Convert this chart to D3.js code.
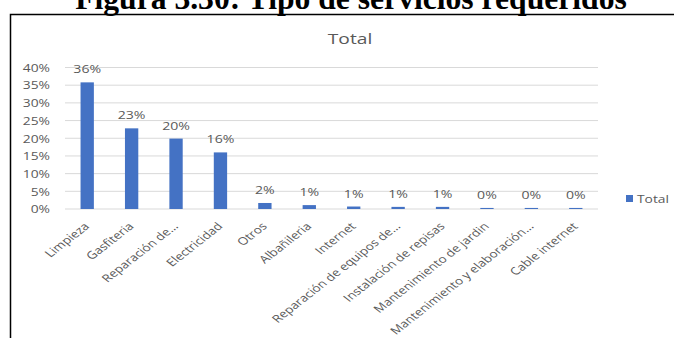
<!DOCTYPE html>
<html>
<head>
<meta charset="utf-8">
<script src="https://cdn.jsdelivr.net/npm/d3@7"></script>
<style>
  html, body { margin: 0; padding: 0; background: #fff; }
  svg { display: block; }
</style>
</head>
<body>
<svg id="chart" width="674" height="338"></svg>
<script>
const categories = ["Limpieza", "Gasfiteria", "Reparación de…", "Electricidad", "Otros", "Albañileria", "Internet", "Reparación de equipos de…", "Instalación de repisas", "Mantenimiento de jardin", "Mantenimiento y elaboración…", "Cable internet"];
const values = [35.8, 22.8, 19.9, 16.0, 1.7, 1.1, 0.7, 0.6, 0.6, 0.3, 0.3, 0.3];
const yTicks = [0, 5, 10, 15, 20, 25, 30, 35, 40];
const seriesName = "Total";
const figureCaption = "Figura 3.30: Tipo de servicios requeridos";

const svg = d3.select("#chart");
const font = "'Open Sans', 'Noto Sans', sans-serif";
const gray = "#595959";
const blue = "#4472C4";
const SX = 1.28; // the screenshot is stretched horizontally

// Document caption (partly cut off at top)
const cap = svg.append("text")
  .attr("x", 351).attr("y", 9)
  .attr("text-anchor", "middle")
  .attr("font-family", "'Liberation Serif', 'Times New Roman', serif")
  .attr("font-weight", "bold")
  .attr("font-size", 24)
  .attr("fill", "#000")
  .text(figureCaption);
const w = cap.node().getComputedTextLength();
cap.attr("font-size", 24 * 552 / w);

// Frame border
svg.append("path")
  .attr("d", "M10.5,338 L10.5,14.5 L674,14.5")
  .attr("fill", "none").attr("stroke", "#000").attr("stroke-width", 1.5);

// Chart title
svg.append("text")
  .attr("transform", `translate(350,44) scale(${SX},1)`)
  .attr("text-anchor", "middle")
  .attr("font-family", font).attr("font-size", 15)
  .attr("fill", gray)
  .text(seriesName);

const x = d3.scaleBand().domain(categories).range([65, 598]).paddingInner(0.7).paddingOuter(0.35);
const y = d3.scaleLinear().domain([0, 40]).range([209, 67.5]);

// Gridlines
svg.append("g").selectAll("line").data(yTicks).join("line")
  .attr("x1", 65).attr("x2", 598)
  .attr("y1", d => y(d)).attr("y2", d => y(d))
  .attr("stroke", "#d9d9d9").attr("stroke-width", 1);

// Y axis
const yAxis = svg.append("g").attr("transform", "translate(50,0)")
  .call(d3.axisLeft(y).tickValues(yTicks).tickSize(0).tickPadding(0).tickFormat(d => d + "%"));
yAxis.select(".domain").remove();
yAxis.selectAll("text")
  .attr("x", 0).attr("dy", "0.35em")
  .attr("transform", `scale(${SX},1)`)
  .attr("font-family", font).attr("font-size", 10.8).attr("fill", gray);

// Bars
svg.append("g").selectAll("rect").data(values).join("rect")
  .attr("x", (d, i) => x(categories[i]))
  .attr("width", x.bandwidth())
  .attr("y", d => y(d))
  .attr("height", d => y(0) - y(d))
  .attr("fill", blue);

// Data labels
const fmt = d3.format(".0%");
svg.append("g").selectAll("text").data(values).join("text")
  .attr("transform", (d, i) => `translate(${x(categories[i]) + x.bandwidth() / 2},${y(d) - 9}) scale(${SX},1)`)
  .attr("text-anchor", "middle")
  .attr("font-family", font).attr("font-size", 11)
  .attr("fill", gray)
  .text(d => fmt(d / 100));

// X axis labels
const xAxis = svg.append("g").attr("transform", "translate(0,209)")
  .call(d3.axisBottom(x).tickSize(0).tickPadding(0));
xAxis.select(".domain").remove();
xAxis.selectAll(".tick text")
  .attr("font-family", font).attr("font-size", 10.6).attr("fill", gray)
  .attr("text-anchor", "end")
  .attr("x", 0).attr("y", 0).attr("dy", 0)
  .attr("transform", `translate(3,18) scale(${SX},1) rotate(-45)`);

// Legend
svg.append("rect").attr("x", 626).attr("y", 195).attr("width", 7).attr("height", 7).attr("fill", blue);
svg.append("text").attr("transform", `translate(637,203) scale(${SX},1)`)
  .attr("font-family", font).attr("font-size", 10.8).attr("fill", gray)
  .text(seriesName);
</script>
</body>
</html>
